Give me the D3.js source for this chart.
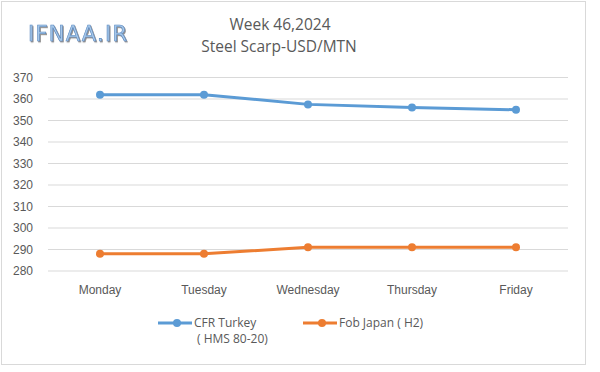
<!DOCTYPE html>
<html>
<head>
<meta charset="utf-8">
<script src="https://cdn.jsdelivr.net/npm/d3@7"></script>
<style>
  body { margin: 0; background: #fff; }
  svg { font-family: "Open Sans", "Noto Sans", sans-serif; }
  .tick text { fill: #595959; font-size: 12px; }
</style>
</head>
<body>
<div class="chart"></div>
<script>
var days = ["Monday", "Tuesday", "Wednesday", "Thursday", "Friday"];
var cfrTurkey = [362, 362, 357.5, 356, 355];
var fobJapan = [288, 288, 291, 291, 291];
var yTicks = [280, 290, 300, 310, 320, 330, 340, 350, 360, 370];
var seriesNames = ["CFR Turkey", "Fob Japan ( H2)"];

var W = 600, H = 372;
var margin = { top: 77.5, left: 48, right: 32, bottom: 101 };
var width = W - margin.left - margin.right,
    height = H - margin.top - margin.bottom;

var svg = d3.select(".chart").append("svg")
  .attr("width", W)
  .attr("height", H);

// frame
svg.append("rect")
  .attr("x", 1.5).attr("y", 1.5)
  .attr("width", 584).attr("height", 363)
  .attr("fill", "#fff")
  .attr("stroke", "#d9d9d9");

// logo
var defs = svg.append("defs");
var f = defs.append("filter").attr("id", "shadow");
f.append("feDropShadow")
  .attr("dx", 1).attr("dy", 1.2)
  .attr("stdDeviation", 0.6)
  .attr("flood-color", "#8f8f8f");
svg.append("text")
  .attr("x", 28).attr("y", 41)
  .attr("font-family", "'DejaVu Sans', sans-serif")
  .attr("font-size", 21)
  .attr("textLength", 99)
  .attr("fill", "#a6c8ea")
  .attr("stroke", "#5a88bf")
  .attr("stroke-width", 0.6)
  .attr("filter", "url(#shadow)")
  .text("IFNAA.IR");

// title
svg.append("text")
  .attr("x", 280).attr("y", 30)
  .attr("text-anchor", "middle")
  .attr("fill", "#595959")
  .attr("font-size", 15.5)
  .text("Week 46,2024");
svg.append("text")
  .attr("x", 279).attr("y", 52)
  .attr("text-anchor", "middle")
  .attr("fill", "#595959")
  .attr("font-size", 15.5)
  .text("Steel Scarp-USD/MTN");

var g = svg.append("g")
  .attr("transform", "translate(" + margin.left + "," + margin.top + ")");

var x = d3.scaleBand().domain(days).range([0, width]);
var y = d3.scaleLinear().domain([280, 370]).range([height, 0]);

// gridlines
g.selectAll(".grid")
  .data(yTicks)
  .enter().append("line")
    .attr("x1", 0).attr("x2", width)
    .attr("y1", function(d) { return y(d); })
    .attr("y2", function(d) { return y(d); })
    .attr("stroke", "#d9d9d9")
    .attr("stroke-width", 1);

var yAxis = g.append("g")
  .call(d3.axisLeft(y).tickValues(yTicks).tickSize(0).tickPadding(15));
yAxis.select(".domain").remove();

var xAxis = g.append("g")
  .attr("transform", "translate(0," + height + ")")
  .call(d3.axisBottom(x).tickSize(0).tickPadding(14));
xAxis.select(".domain").remove();

var series = [
  { name: seriesNames[0], values: cfrTurkey, color: "#5b9bd5" },
  { name: seriesNames[1], values: fobJapan, color: "#ed7d31" }
];

var line = d3.line()
  .x(function(d, i) { return x(days[i]) + x.bandwidth() / 2; })
  .y(function(d) { return y(d); });

series.forEach(function(s) {
  g.append("path")
    .datum(s.values)
    .attr("fill", "none")
    .attr("stroke", s.color)
    .attr("stroke-width", 3)
    .attr("stroke-linejoin", "round")
    .attr("d", line);
  g.selectAll(null)
    .data(s.values)
    .enter().append("circle")
      .attr("cx", function(d, i) { return x(days[i]) + x.bandwidth() / 2; })
      .attr("cy", function(d) { return y(d); })
      .attr("r", 4)
      .attr("fill", s.color);
});

// legend
var legendPos = [{ x: 158, y: 323 }, { x: 303, y: 323 }];
series.forEach(function(s, i) {
  var p = legendPos[i];
  svg.append("line")
    .attr("x1", p.x).attr("x2", p.x + 34)
    .attr("y1", p.y).attr("y2", p.y)
    .attr("stroke", s.color).attr("stroke-width", 3);
  svg.append("circle")
    .attr("cx", p.x + 19).attr("cy", p.y).attr("r", 4)
    .attr("fill", s.color);
  svg.append("text")
    .attr("x", p.x + 36).attr("y", p.y + 4)
    .attr("fill", "#595959")
    .attr("font-size", 12)
    .text(s.name);
});
svg.append("text")
  .attr("x", 197).attr("y", 343)
  .attr("fill", "#595959")
  .attr("font-size", 12)
  .text("( HMS 80-20)");
</script>
</body>
</html>
